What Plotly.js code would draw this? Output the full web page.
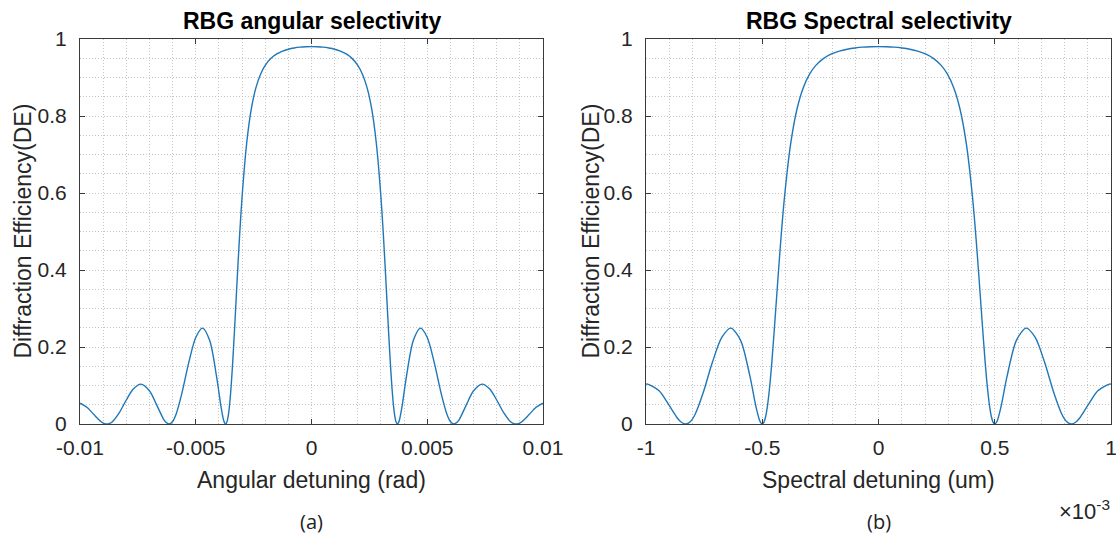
<!DOCTYPE html>
<html>
<head>
<meta charset="utf-8">
<script src="https://cdn.plot.ly/plotly-3.0.1.min.js"></script>
<style>
  html, body { margin: 0; padding: 0; background: #ffffff; }
  #chart { width: 1116px; height: 535px; }
</style>
</head>
<body>
<div id="chart"></div>
<script>
// Angular selectivity of the reflection Bragg grating: detuning (rad) vs diffraction efficiency
const angDetuning = [
  -0.01, -0.0097, -0.0094, -0.0091, -0.00897, -0.00884, -0.00872, -0.0086, -0.0083, -0.008,
  -0.0077, -0.00737, -0.007, -0.0067, -0.0064, -0.0063, -0.00615, -0.006, -0.00585, -0.0056,
  -0.0053, -0.005, -0.00471, -0.0044, -0.0041, -0.0039, -0.00378, -0.00371, -0.00365, -0.0036,
  -0.00355, -0.00348, -0.0034, -0.0033, -0.0032, -0.0031, -0.003, -0.0028, -0.0026, -0.0024,
  -0.0022, -0.002, -0.00175, -0.0015, -0.00125, -0.001, -0.00075, -0.0005, -0.00025, 0,
  0.00025, 0.0005, 0.00075, 0.001, 0.00125, 0.0015, 0.00175, 0.002, 0.0022, 0.0024,
  0.0026, 0.0028, 0.003, 0.0031, 0.0032, 0.0033, 0.0034, 0.00348, 0.00355, 0.0036,
  0.00365, 0.00371, 0.00378, 0.0039, 0.0041, 0.0044, 0.00471, 0.005, 0.0053, 0.0056,
  0.00585, 0.006, 0.00615, 0.0063, 0.0064, 0.0067, 0.007, 0.00737, 0.0077, 0.008,
  0.0083, 0.0086, 0.00872, 0.00884, 0.00897, 0.0091, 0.0094, 0.0097, 0.01
];
const angDE = [
  0.0542, 0.0434, 0.0246, 0.0066, 0.0018, 0, 0.0015, 0.0060, 0.0296, 0.0623,
  0.0909, 0.1037, 0.0863, 0.0509, 0.0135, 0.0051, 0, 0.0064, 0.0253, 0.0797,
  0.1602, 0.2247, 0.2489, 0.2173, 0.1229, 0.0416, 0.0068, 0, 0.0056, 0.0197,
  0.0431, 0.0909, 0.1640, 0.2732, 0.3878, 0.4955, 0.5890, 0.7293, 0.8182, 0.8736,
  0.9086, 0.9315, 0.9497, 0.9612, 0.9686, 0.9735, 0.9767, 0.9788, 0.9799, 0.9802,
  0.9799, 0.9788, 0.9767, 0.9735, 0.9686, 0.9612, 0.9497, 0.9315, 0.9086, 0.8736,
  0.8182, 0.7293, 0.5890, 0.4955, 0.3878, 0.2732, 0.1640, 0.0909, 0.0431, 0.0197,
  0.0056, 0, 0.0068, 0.0416, 0.1229, 0.2173, 0.2489, 0.2247, 0.1602, 0.0797,
  0.0253, 0.0064, 0, 0.0051, 0.0135, 0.0509, 0.0863, 0.1037, 0.0909, 0.0623,
  0.0296, 0.0060, 0.0015, 0, 0.0018, 0.0066, 0.0246, 0.0434, 0.0542
];

// Spectral selectivity: detuning in units of 1e-3 um vs diffraction efficiency
const specDetuning = [
  -1, -0.9934, -0.9435, -0.9031, -0.8627, -0.8492, -0.829, -0.8087, -0.7885, -0.7548,
  -0.7144, -0.674, -0.6349, -0.5931, -0.5526, -0.5257, -0.5095, -0.5, -0.492, -0.4852,
  -0.4785, -0.4691, -0.4583, -0.4448, -0.4313, -0.4178, -0.4044, -0.3774, -0.3505, -0.3235,
  -0.2965, -0.2696, -0.2359, -0.2022, -0.1685, -0.1348, -0.1011, -0.0674, -0.0337, 0,
  0.0337, 0.0674, 0.1011, 0.1348, 0.1685, 0.2022, 0.2359, 0.2696, 0.2965, 0.3235,
  0.3505, 0.3774, 0.4044, 0.4178, 0.4313, 0.4448, 0.4583, 0.4691, 0.4785, 0.4852,
  0.492, 0.5, 0.5095, 0.5257, 0.5526, 0.5931, 0.6349, 0.674, 0.7144, 0.7548,
  0.7885, 0.8087, 0.829, 0.8492, 0.8627, 0.9031, 0.9435, 0.9934, 1
];
const specDE = [
  0.1034, 0.1037, 0.0863, 0.0509, 0.0135, 0.0051, 0, 0.0064, 0.0253, 0.0797,
  0.1602, 0.2247, 0.2489, 0.2173, 0.1229, 0.0416, 0.0068, 0, 0.0056, 0.0197,
  0.0431, 0.0909, 0.1640, 0.2732, 0.3878, 0.4955, 0.5890, 0.7293, 0.8182, 0.8736,
  0.9086, 0.9315, 0.9497, 0.9612, 0.9686, 0.9735, 0.9767, 0.9788, 0.9799, 0.9802,
  0.9799, 0.9788, 0.9767, 0.9735, 0.9686, 0.9612, 0.9497, 0.9315, 0.9086, 0.8736,
  0.8182, 0.7293, 0.5890, 0.4955, 0.3878, 0.2732, 0.1640, 0.0909, 0.0431, 0.0197,
  0.0056, 0, 0.0068, 0.0416, 0.1229, 0.2173, 0.2489, 0.2247, 0.1602, 0.0797,
  0.0253, 0.0064, 0, 0.0051, 0.0135, 0.0509, 0.0863, 0.1037, 0.1034
];

// Tick values and labels
const angTickVals = [-0.01, -0.005, 0, 0.005, 0.01];
const angTickText = ['-0.01', '-0.005', '0', '0.005', '0.01'];
const specTickVals = [-1, -0.5, 0, 0.5, 1];
const specTickText = ['-1', '-0.5', '0', '0.5', '1'];
const deTickVals = [0, 0.2, 0.4, 0.6, 0.8, 1];
const deTickText = ['0', '0.2', '0.4', '0.6', '0.8', '1'];

// Text
const panelTitles = ['RBG angular selectivity', 'RBG Spectral selectivity'];
const xTitles = ['Angular detuning (rad)', 'Spectral detuning (um)'];
const yTitle = 'Diffraction Efficiency(DE)';
const panelLabels = ['(a)', '(b)'];
const specMultiplier = '\u00d710<sup>-3</sup>';

// Page geometry in pixels, converted to paper fractions
const W = 1116, H = 535;
const px = p => p / W;
const py = p => 1 - p / H;
const leftBox = [80, 543];
const rightBox = [646, 1111];
const plotTop = 39, plotBottom = 424;

const FONT = 'Liberation Sans, Arial, Helvetica, sans-serif';
const AXIS_COLOR = '#262626';
const GRID_COLOR = '#c6c6c6';
const GRID_DASH = '1px,2px';
const LINE_COLOR = '#1f77b8';

function axisStyle(extra) {
  return Object.assign({
    showline: true, linecolor: '#3a3a3a', linewidth: 1, mirror: 'ticks',
    ticks: 'inside', ticklen: 5, tickwidth: 1, tickcolor: '#3a3a3a',
    tickfont: { family: FONT, size: 21, color: AXIS_COLOR },
    ticklabeloverflow: 'allow',
    showgrid: true, gridcolor: GRID_COLOR, griddash: GRID_DASH, gridwidth: 1,
    zeroline: false, fixedrange: true, tickmode: 'array'
  }, extra);
}
function minorGrid(step) {
  return { tickmode: 'linear', tick0: 0, dtick: step, showgrid: true,
           gridcolor: GRID_COLOR, griddash: GRID_DASH, gridwidth: 1, ticks: '' };
}

const traces = [
  { x: angDetuning, y: angDE, xaxis: 'x', yaxis: 'y', type: 'scatter', mode: 'lines',
    line: { color: LINE_COLOR, width: 1.4, shape: 'spline', smoothing: 0.8 }, hoverinfo: 'x+y' },
  { x: specDetuning, y: specDE, xaxis: 'x2', yaxis: 'y2', type: 'scatter', mode: 'lines',
    line: { color: LINE_COLOR, width: 1.4, shape: 'spline', smoothing: 0.8 }, hoverinfo: 'x+y' }
];

const yDomain = [py(plotBottom), py(plotTop)];

const layout = {
  width: W, height: H,
  margin: { l: 0, r: 0, t: 0, b: 0 },
  paper_bgcolor: '#ffffff', plot_bgcolor: '#ffffff',
  showlegend: false,
  xaxis: axisStyle({ domain: [px(leftBox[0]), px(leftBox[1])], anchor: 'y',
    range: [-0.01, 0.01], tickvals: angTickVals, ticktext: angTickText,
    ticklabelstandoff: 5, minor: minorGrid(0.001) }),
  yaxis: axisStyle({ domain: yDomain, anchor: 'x', range: [0, 1],
    tickvals: deTickVals, ticktext: deTickText, ticklabelstandoff: 8,
    minor: minorGrid(0.05) }),
  xaxis2: axisStyle({ domain: [px(rightBox[0]), px(rightBox[1])], anchor: 'y2',
    range: [-1, 1], tickvals: specTickVals, ticktext: specTickText,
    ticklabelstandoff: 5, minor: minorGrid(0.1) }),
  yaxis2: axisStyle({ domain: yDomain, anchor: 'x2', range: [0, 1],
    tickvals: deTickVals, ticktext: deTickText, ticklabelstandoff: 8,
    minor: minorGrid(0.05) }),
  annotations: []
};

const boxes = [leftBox, rightBox];
const yTitleX = [22, 590];
boxes.forEach((b, i) => {
  const cx = (b[0] + b[1]) / 2;
  layout.annotations.push(
    { text: '<b>' + panelTitles[i] + '</b>', xref: 'paper', yref: 'paper',
      x: px(cx), y: py(21), xanchor: 'center', yanchor: 'middle', showarrow: false,
      font: { family: FONT, size: 23, color: '#000000' } },
    { text: xTitles[i], xref: 'paper', yref: 'paper',
      x: px(cx), y: py(480), xanchor: 'center', yanchor: 'middle', showarrow: false,
      font: { family: FONT, size: 23, color: AXIS_COLOR } },
    { text: yTitle, xref: 'paper', yref: 'paper', textangle: -90,
      x: px(yTitleX[i]), y: py((plotTop + plotBottom) / 2), xanchor: 'center', yanchor: 'middle',
      showarrow: false, font: { family: FONT, size: 23, color: AXIS_COLOR } },
    { text: panelLabels[i], xref: 'paper', yref: 'paper',
      x: px(cx), y: py(521), xanchor: 'center', yanchor: 'middle', showarrow: false,
      font: { family: 'Open Sans, Noto Sans, sans-serif', size: 20, color: '#222222' } }
  );
});
layout.annotations.push({
  text: specMultiplier, xref: 'paper', yref: 'paper',
  x: px(1084), y: py(510), xanchor: 'center', yanchor: 'middle', showarrow: false,
  font: { family: FONT, size: 22, color: AXIS_COLOR }
});

Plotly.newPlot('chart', traces, layout, { staticPlot: true, displayModeBar: false });
</script>
</body>
</html>
